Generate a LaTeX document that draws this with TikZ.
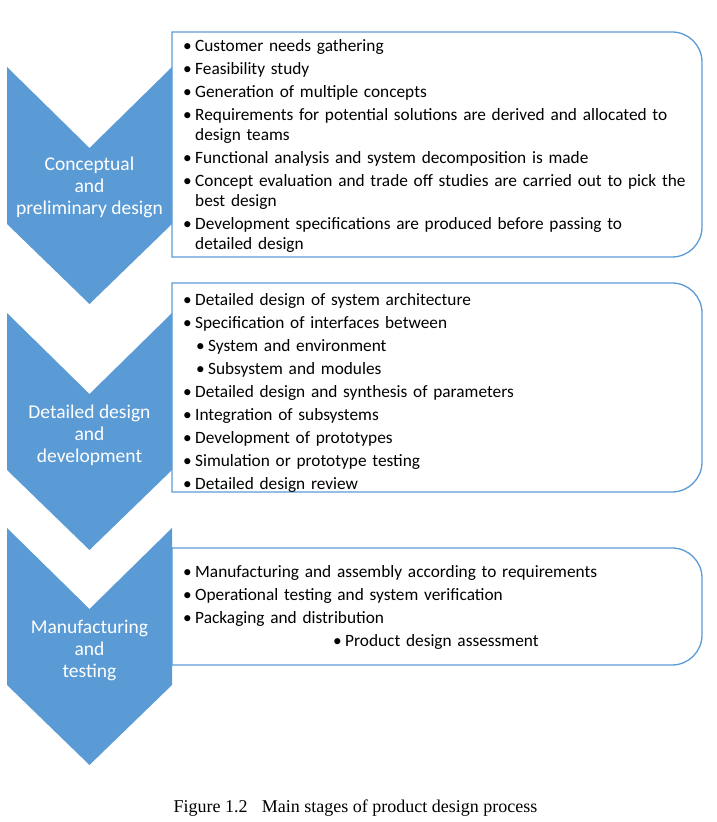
\documentclass[tikz,border=0pt]{standalone}
\definecolor{stageblue}{RGB}{91,155,213}
\usepackage{fontspec}
\setmainfont{Carlito}
\newfontfamily\captionfont{Liberation Serif}
\usepackage{tikz}
\usetikzlibrary{positioning,calc}

\tikzset{
  chevron/.style={fill=stageblue, draw=none},
  stagelabel/.style={text=white, align=center, inner sep=0pt, font=\fontsize{19.5}{22}\selectfont},
  frame/.style={draw=stageblue, line width=1.3pt},
  listtext/.style={anchor=north west, inner sep=0pt, text width=515pt, align=left,
    font=\fontsize{17.3}{20}\selectfont, execute at begin node=\setlength{\parskip}{3pt}}
}
\newcommand{\itm}[1]{\par\hangindent=12pt\hangafter=1\makebox[12pt][l]{\textbullet}#1}
\newcommand{\subitm}[1]{\par\hspace*{13pt}\makebox[12pt][l]{\textbullet}#1}

\begin{document}
\begin{tikzpicture}[x=1pt, y=1pt]
\useasboundingbox (0,0) rectangle (717,822);

% stage chevrons
\fill[chevron] (7,755) -- (89.5,674) -- (172,755) -- (172,598) -- (89.5,518) -- (7,598) -- cycle;
\fill[chevron] (7,509) -- (89.5,428) -- (172,509) -- (172,352) -- (89.5,272) -- (7,352) -- cycle;
\fill[chevron] (7,294) -- (89.5,213) -- (172,294) -- (172,137) -- (89.5,57) -- (7,137) -- cycle;

\node[stagelabel] (conc) at (89.5,635) {Conceptual\\and\\preliminary design};
\node[stagelabel] (detl) at (89.5,387) {Detailed design\\and\\development};
\node[stagelabel] (manu) at (89.5,172) {Manufacturing\\and\\testing};

% activity boxes
\draw[frame] (172,565) -- (172,790) -- (672,790) arc[start angle=90, end angle=0, radius=30]
  -- (702,595) arc[start angle=0, end angle=-90, radius=30] -- cycle;
\draw[frame] (172,330) -- (172,539) -- (672,539) arc[start angle=90, end angle=0, radius=30]
  -- (702,360) arc[start angle=0, end angle=-90, radius=30] -- cycle;
\draw[frame] (172,157) -- (172,274) -- (672,274) arc[start angle=90, end angle=0, radius=30]
  -- (702,187) arc[start angle=0, end angle=-90, radius=30] -- cycle;

\node[listtext] (conclist) at (183,793.5) {%
  \itm{Customer needs gathering}
  \itm{Feasibility study}
  \itm{Generation of multiple concepts}
  \itm{Requirements for potential solutions are derived and allocated to\hfil\break design teams}
  \itm{Functional analysis and system decomposition is made}
  \itm{Concept evaluation and trade off studies are carried out to pick the\hfil\break best design}
  \itm{Development specifications are produced before passing to\hfil\break detailed design}\par};

\node[listtext] (detllist) at (183,539.5) {%
  \itm{Detailed design of system architecture}
  \itm{Specification of interfaces between}
  \subitm{System and environment}
  \subitm{Subsystem and modules}
  \itm{Detailed design and synthesis of parameters}
  \itm{Integration of subsystems}
  \itm{Development of prototypes}
  \itm{Simulation or prototype testing}
  \itm{Detailed design review}\par};

\node[listtext] (manulist) at (183,267.5) {%
  \itm{Manufacturing and assembly according to requirements}
  \itm{Operational testing and system verification}
  \itm{Packaging and distribution}
  \par\hspace*{150pt}\makebox[12pt][l]{\textbullet}Product design assessment\par};

% caption
\node[font=\captionfont\fontsize{18}{20}\selectfont, inner sep=0pt] (caption) at (355.5,14)
  {Figure 1.2\hspace{0.8em}Main stages of product design process};
\end{tikzpicture}
\end{document}
